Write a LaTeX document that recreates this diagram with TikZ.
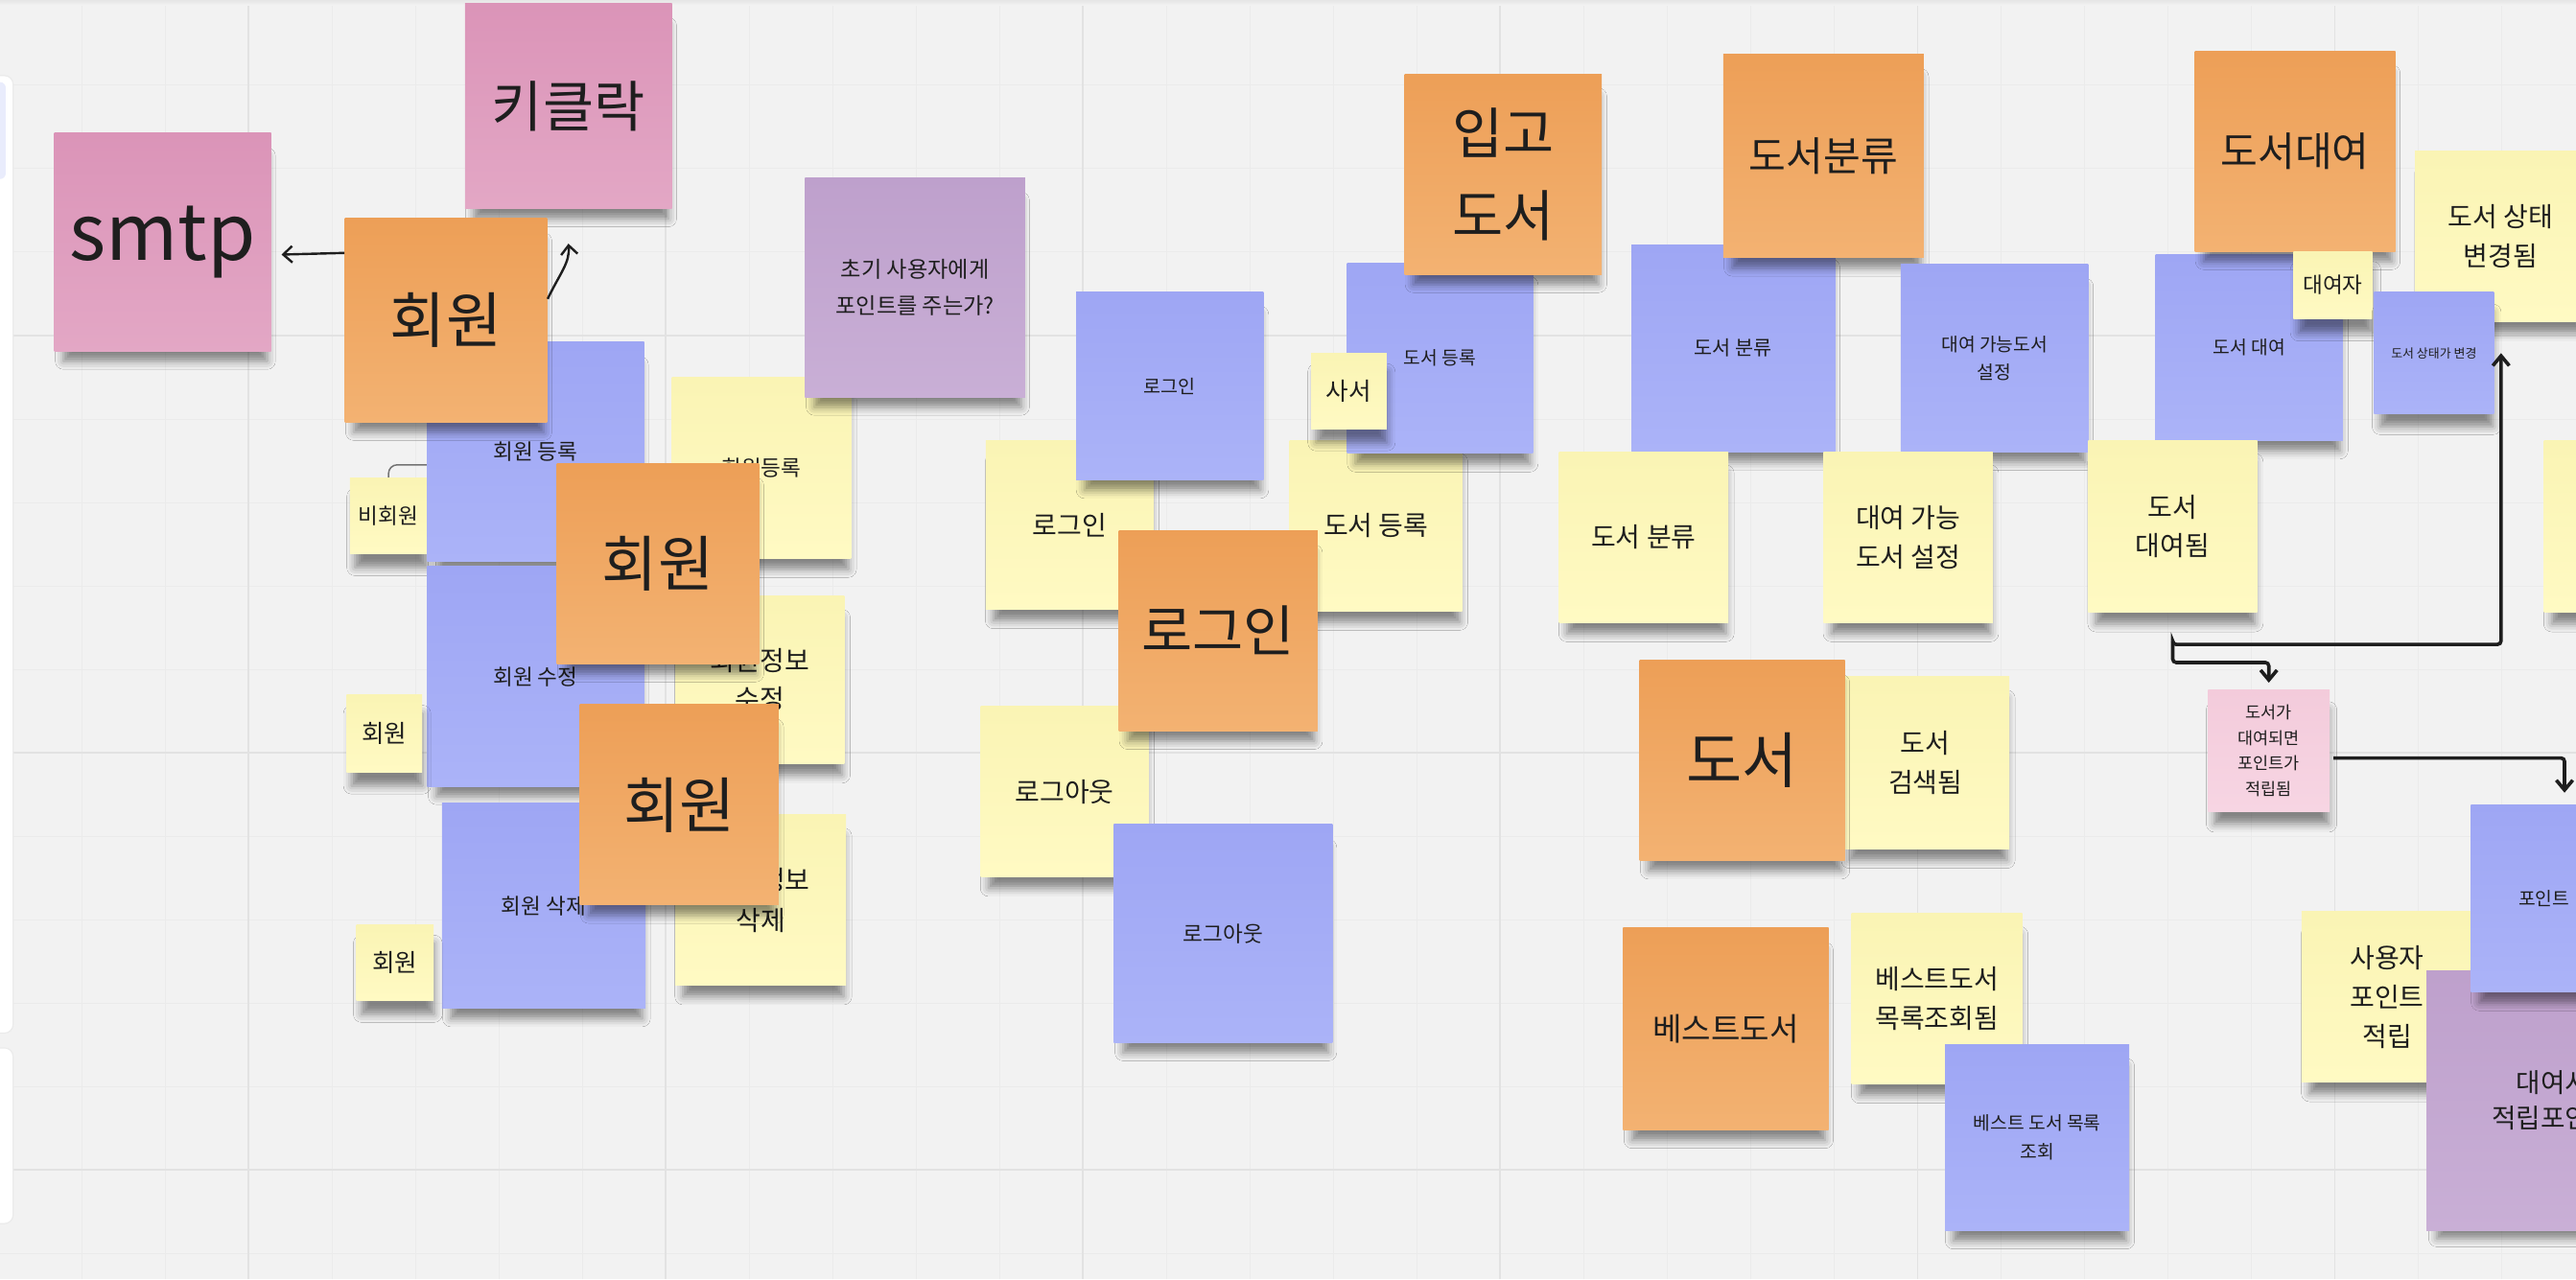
\documentclass[tikz,border=0pt]{standalone}
\usepackage{fontspec}
\newfontfamily\kr{Noto Sans CJK KR}
\usetikzlibrary{arrows.meta, shadows.blur}
\definecolor{bgc}{RGB}{242,242,242}
\definecolor{gmn}{RGB}{235,235,235}
\definecolor{gmj}{RGB}{226,226,226}
\definecolor{ink}{RGB}{30,30,30}
\definecolor{tbl}{RGB}{233,236,252}
\definecolor{org1}{RGB}{237,159,87}
\definecolor{org2}{RGB}{243,178,114}
\definecolor{blu1}{RGB}{158,166,244}
\definecolor{blu2}{RGB}{171,179,248}
\definecolor{ylw1}{RGB}{250,244,180}
\definecolor{ylw2}{RGB}{255,250,195}
\definecolor{pnk1}{RGB}{219,148,184}
\definecolor{pnk2}{RGB}{227,167,197}
\definecolor{pur1}{RGB}{190,160,204}
\definecolor{pur2}{RGB}{201,175,214}
\definecolor{lpk1}{RGB}{243,203,219}
\definecolor{lpk2}{RGB}{247,213,227}
\tikzset{
  note/.style={rectangle, inner sep=0pt, align=center, text=ink, font=\kr,
               blur shadow={shadow xshift=1pt, shadow yshift=-6pt, shadow scale=0.94,
                            shadow opacity=45, shadow blur radius=3pt}},
  org/.style={note, top color=org1, bottom color=org2},
  blu/.style={note, top color=blu1, bottom color=blu2},
  ylw/.style={note, top color=ylw1, bottom color=ylw2},
  pnk/.style={note, top color=pnk1, bottom color=pnk2},
  pur/.style={note, top color=pur1, bottom color=pur2},
  lpk/.style={note, top color=lpk1, bottom color=lpk2},   % 조건 메모
  sz/.style 2 args={minimum width=#1*0.2mm, minimum height=#2*0.2mm},
  fs/.style 2 args={font=\kr\fontsize{#1}{#2}\selectfont},
  hd/.style={fs={21}{25}},
  yt/.style={fs={9.3}{13.6}},
  bt/.style={fs={6.4}{9.7}},
  wire/.style={draw=ink, line width=1.2pt, rounded corners=1.2pt,
               -{Straight Barb[length=1.2mm, width=2mm]}},
  wire2/.style={draw=ink, line width=0.8pt, -{Straight Barb[length=1.1mm, width=2mm]}},
  thinw/.style={draw=black!55, line width=0.5pt},
}
\begin{document}
\begin{tikzpicture}[x=0.2mm, y=-0.2mm]
  \useasboundingbox (0,0) rectangle (1568,779);
  \fill[bgc] (0,0) rectangle (1568,779);
  \foreach \k in {0,...,30} \draw[gmn, line width=0.3pt] ({49.6+50.8*\k},0) -- ({49.6+50.8*\k},779);
  \foreach \k in {0,...,15} \draw[gmn, line width=0.3pt] (0,{1.1+50.8*\k}) -- (1568,{1.1+50.8*\k});
  \foreach \k in {0,...,5} \draw[gmj, line width=0.6pt] ({151.2+254*\k},0) -- ({151.2+254*\k},779);
  \foreach \k in {0,...,2} \draw[gmj, line width=0.6pt] (0,{204.3+254*\k}) -- (1568,{204.3+254*\k});
  \shade[top color=black!10, bottom color=bgc] (0,0) rectangle (1568,3);
  \filldraw[draw=black!8, fill=white, rounded corners=3pt] (-10,46) rectangle (8,629);
  \filldraw[draw=black!8, fill=white, rounded corners=3pt] (-10,638) rectangle (8,745);
  \fill[tbl, rounded corners=2pt] (-10,50) rectangle (3.5,109);

  % 회원
  \node[ylw, sz={47}{46}, fs={7.5}{10}] (nonm) at (236.5,314) {비회원};
  \coordinate (hid) at (262,283);
  \draw[thinw, rounded corners=3pt] (nonm.north) |- (hid);
  \node[blu, sz={132}{134}, fs={7.5}{10}] (reg) at (326,275) {회원 등록};
  \node[ylw, sz={109}{110}, fs={7.5}{10}] (regy) at (463.5,285) {회원등록};
  \node[blu, sz={132}{134}, fs={7.5}{10}] (edit) at (326,412) {회원 수정};
  \node[ylw, sz={46}{47}, fs={8.5}{11}] (mem1) at (234,446.5) {회원};
  \node[ylw, sz={103}{102}, fs={9.3}{13.1}] (edity) at (462.5,414) {회원정보\\수정};
  \node[blu, sz={124}{125}, fs={7.5}{10}] (del) at (331,551.5) {회원 삭제};
  \node[ylw, sz={47}{46}, fs={8.5}{11}] (mem2) at (240.5,586) {회원};
  \node[ylw, sz={104}{104}, fs={9.3}{14}] (dely) at (463,548) {회원정보\\삭제};
  \node[pnk, sz={132}{133}, fs={27}{30}] (smtp) at (99,147.5) {smtp};
  \node[pnk, sz={126}{125}, fs={19.2}{23}] (kcl) at (346,64.5) {키클락};
  \node[pur, sz={134}{134}, fs={7.7}{12.5}] (ask) at (557,175) {초기 사용자에게\\포인트를 주는가?};
  \node[org, sz={123}{124}, hd] (m1) at (271.5,195) {회원};
  \node[org, sz={123}{122}, hd] (m2) at (400.5,343) {회원};
  \node[org, sz={121}{122}, hd] (m3) at (413.5,490) {회원};

  % 로그인 / 입고
  \node[ylw, sz={102}{103}, yt] (lgy) at (651,319.5) {로그인};
  \node[blu, sz={114}{114}, fs={6.5}{9}] (lgb) at (712,235) {로그인};
  \node[ylw, sz={105}{104}, yt] (bky) at (837.5,320) {도서 등록};
  \node[blu, sz={113}{116}, bt] (bkb) at (876.5,218) {도서 등록};
  \node[ylw, sz={46}{46}, fs={8.5}{11}] (lib) at (821,238) {사서};
  \node[ylw, sz={102}{104}, yt] (loy) at (648,482) {로그아웃};
  \node[blu, sz={133}{133}, fs={7.5}{10}] (lob) at (744.5,568.5) {로그아웃};
  \node[org, sz={121}{122}, fs={19.2}{23}] (lgo) at (741.5,384) {로그인};
  \node[org, sz={120}{122}, fs={19.2}{28.5}] (ib) at (915,106) {입고\\도서};

  % 분류
  \node[blu, sz={124}{126}, fs={6.9}{10}] (clb) at (1055,212) {도서 분류};
  \node[org, sz={122}{124}, fs={14}{17}] (cls) at (1110,95) {도서분류};
  \node[blu, sz={114}{114}, bt] (avb) at (1214,218) {대여 가능도서\\설정};
  \node[ylw, sz={103}{104}, yt] (cly) at (1000.5,327) {도서 분류};
  \node[ylw, sz={103}{104}, yt] (avy) at (1161.5,327) {대여 가능\\도서 설정};

  % 대여
  \node[blu, sz={114}{113}, bt] (rtb) at (1369,211.5) {도서 대여};
  \node[org, sz={122}{122}, fs={14}{17}] (rt) at (1397,92) {도서대여};
  \node[ylw, sz={48}{41}, fs={7.5}{10}] (bw) at (1420,173.5) {대여자};
  \node[ylw, sz={104}{104}, yt] (sty) at (1522,144) {도서 상태\\변경됨};
  \node[blu, sz={73}{74}, fs={4.3}{6}] (stb) at (1481.5,215) {도서 상태가 변경};
  \node[ylw, sz={103}{105}, yt] (dyd) at (1322.5,320.5) {도서\\대여됨};
  \node[ylw, sz={103}{105}] (ry) at (1600,320.5) {};

  % 도서 / 베스트
  \node[ylw, sz={102}{105}, yt] (sr) at (1172,464.5) {도서\\검색됨};
  \node[org, sz={125}{122}, hd] (bk) at (1060.5,463) {도서};
  \node[ylw, sz={104}{104}, yt] (bsy) at (1179,608) {베스트도서\\목록조회됨};
  \node[blu, sz={112}{113}, bt] (bsb) at (1240,692.5) {베스트 도서 목록\\조회};
  \node[org, sz={125}{123}, fs={11}{14}] (bs) at (1050.5,626.5) {베스트도서};

  % 포인트
  \node[lpk, sz={74}{74}, fs={5.8}{8.8}] (pk) at (1381,457) {도서가\\대여되면\\포인트가\\적립됨};
  \node[ylw, sz={104}{104}, yt] (upy) at (1453,607) {사용자\\포인트\\적립};
  \node[pur, sz={154}{158}, fs={9.2}{12.5}] (rp) at (1554,670) {대여시\\적립포인트};
  \node[blu, sz={114}{114}, bt] (ptb) at (1561,547) {\hspace*{-0.5cm}포인트};

  \draw[wire2] ([yshift=8.2mm]m1.west) -- ([xshift=1.2mm,yshift=-1.5mm]smtp.east);
  \draw[wire2] ([yshift=2.6mm]m1.east) .. controls (341,166) and (347,160) .. ([yshift=-4.2mm]kcl.south);
  \coordinate (fork) at ([yshift=-3.4mm]dyd.south);
  \draw[wire] (fork) -- ++(0,13) -| ([yshift=0.8mm]pk.north);
  \draw[wire] (fork) -- ++(0,2) -| ([xshift=0.8mm]stb.east);
  \draw[wire] ([xshift=0.4mm,yshift=-0.9mm]pk.east) -| ([yshift=1.4mm]ptb.north);
\end{tikzpicture}
\end{document}
